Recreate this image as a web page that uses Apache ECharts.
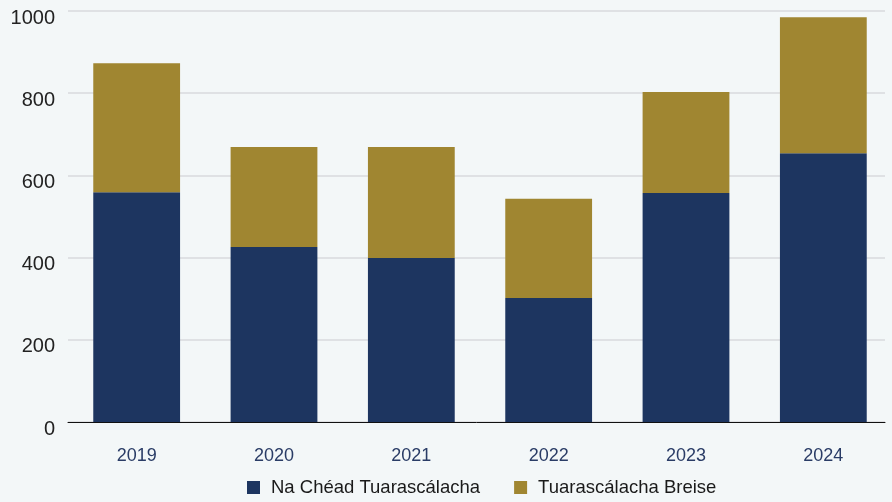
<!DOCTYPE html>
<html>
<head>
<meta charset="utf-8">
<script src="https://cdn.jsdelivr.net/npm/echarts@6/dist/echarts.min.js"></script>
<style>
html,body{margin:0;padding:0;background:#f3f7f8;}
#chart{width:892px;height:502px;}
</style>
</head>
<body>
<div id="chart"></div>
<script>
var years=['2019','2020','2021','2022','2023','2024'];
var firstReports=[559,426,399,302,557,654];
var extraReports=[314,243,270,241,246,331];
var yTicks=[0,200,400,600,800,1000];

var chart=echarts.init(document.getElementById('chart'));
chart.setOption({
	backgroundColor:'#f3f7f8',
	grid:[
		{left:68,right:-5,top:11,bottom:80},   // bars
		{left:68,right:7,top:11,bottom:80}     // axis line + grid lines
	],
	legend:{
		bottom:0,
		left:242,
		itemWidth:13,
		itemHeight:13,
		itemGap:34,
		icon:'rect',
		textStyle:{fontFamily:'Liberation Sans',fontSize:18.5,color:'#1a1a1a',padding:[0,0,0,6]},
		data:['Na Chéad Tuarascálacha','Tuarascálacha Breise']
	},
	xAxis:[{
		type:'category',
		gridIndex:0,
		data:years,
		axisTick:{show:false},
		axisLine:{show:false},
		axisLabel:{margin:25,fontFamily:'Liberation Sans',fontSize:18,color:'#2a3c66'}
	},{
		type:'value',
		gridIndex:1,
		min:0,max:1,
		axisTick:{show:false},
		axisLabel:{show:false},
		splitLine:{show:false},
		axisLine:{show:true,onZero:false,lineStyle:{color:'#111',width:1}}
	}],
	yAxis:[{
		type:'value',
		gridIndex:0,
		min:yTicks[0],
		max:yTicks[yTicks.length-1],
		interval:200,
		show:false,
		splitLine:{show:false}
	},{
		type:'value',
		gridIndex:1,
		min:yTicks[0],
		max:yTicks[yTicks.length-1],
		interval:200,
		axisLine:{show:false},
		axisTick:{show:false},
		splitLine:{lineStyle:{color:'#dfe1e4',width:2}},
		axisLabel:{margin:13,verticalAlign:'top',lineHeight:14,fontFamily:'Liberation Sans',fontSize:20,color:'#222',
			formatter:function(v){return String(v);}}
	}],
	series:[{
		name:'Na Chéad Tuarascálacha',
		type:'bar',
		stack:'total',
		barWidth:'63.2%',
		itemStyle:{color:'#1d3560'},
		data:firstReports
	},{
		name:'Tuarascálacha Breise',
		type:'bar',
		stack:'total',
		barWidth:'63.2%',
		itemStyle:{color:'#a08631'},
		data:extraReports
	}]
});
</script>
</body>
</html>
